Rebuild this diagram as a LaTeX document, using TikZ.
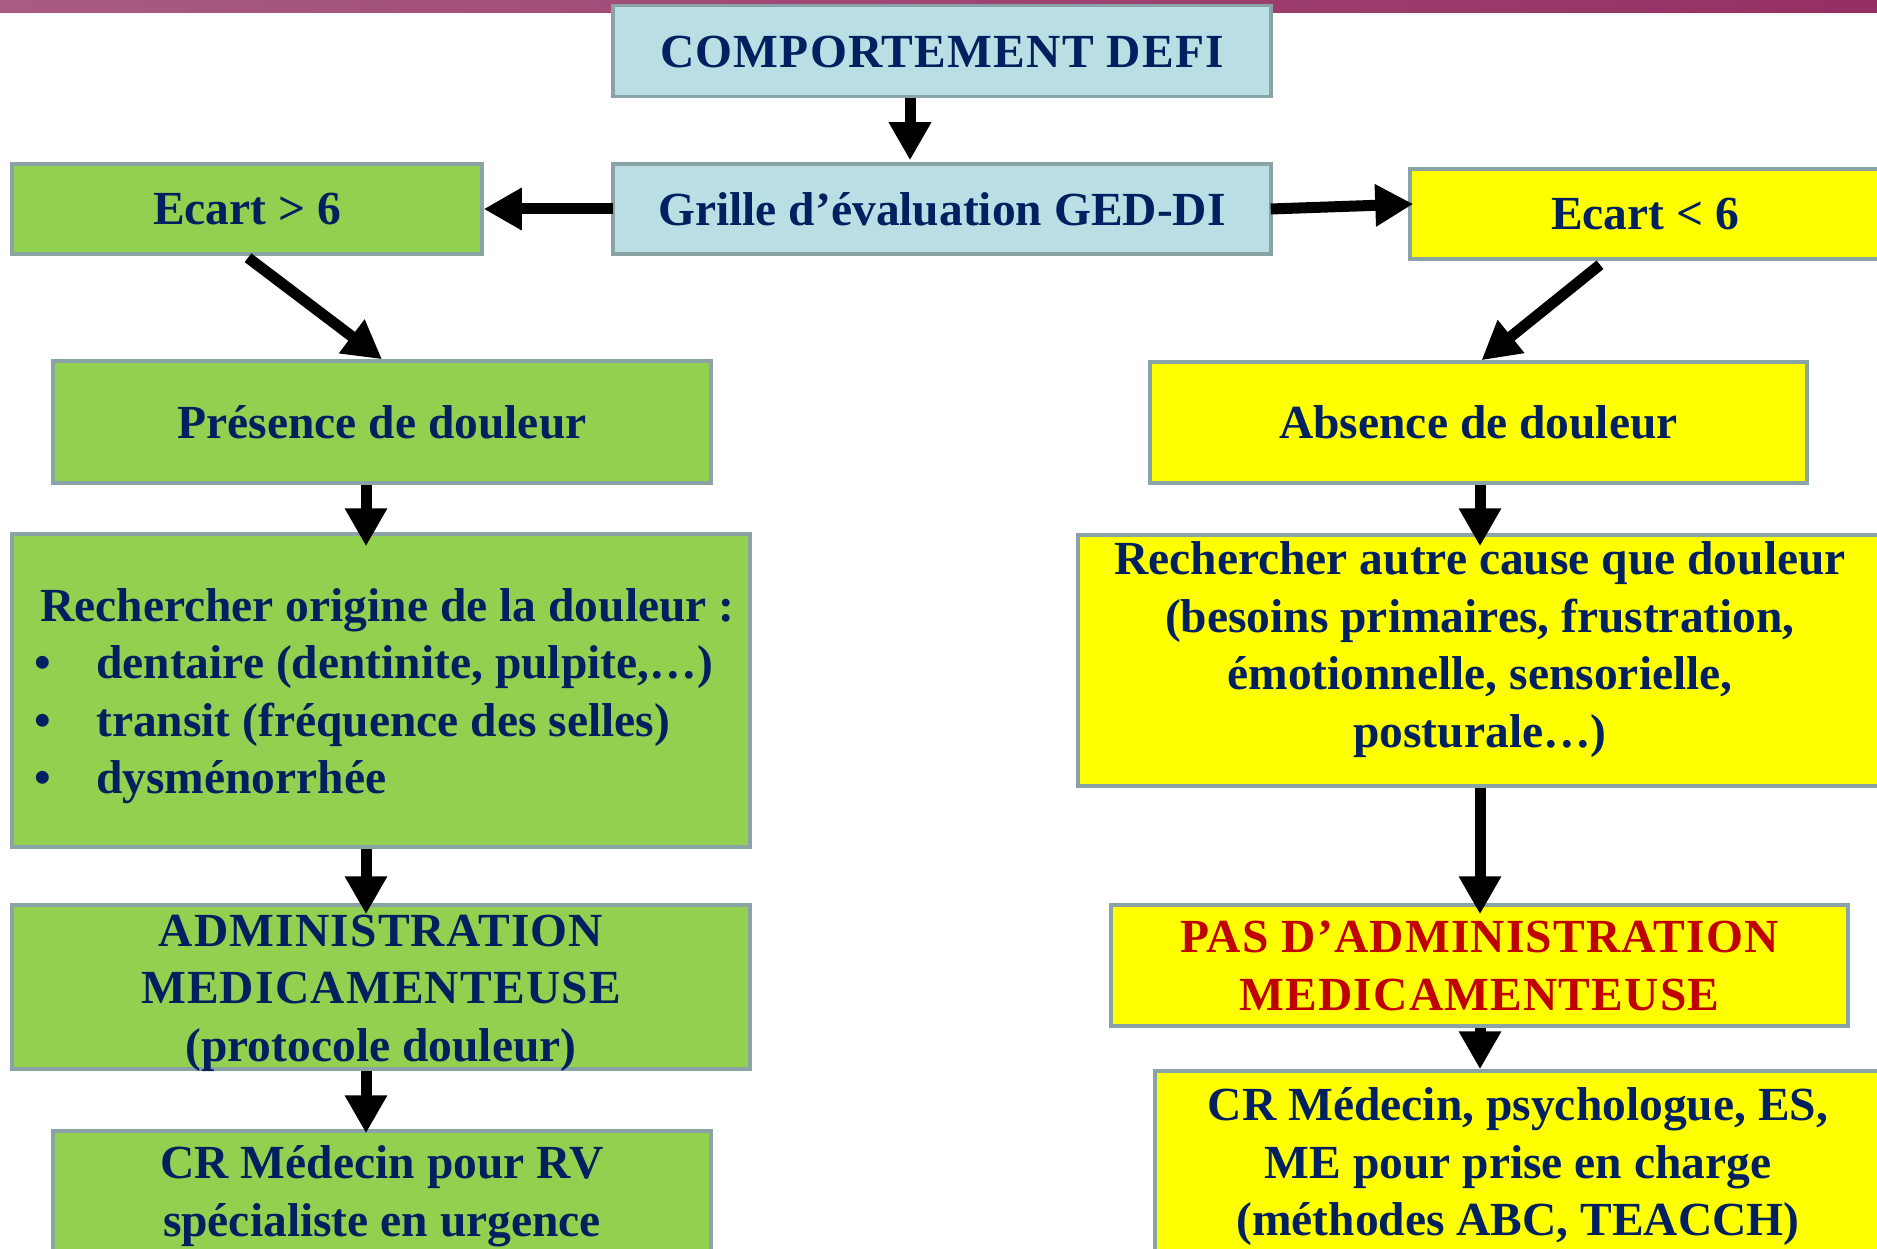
\documentclass[tikz,border=0pt]{standalone}
\usepackage{fontspec}
\setmainfont{Liberation Serif}
\newfontfamily\capsfont[LetterSpace=2.5]{Liberation Serif}
\usetikzlibrary{arrows.meta,calc}
\definecolor{navy}{HTML}{002060}
\definecolor{redtxt}{HTML}{C00000}
\definecolor{gfill}{HTML}{92D050}
\definecolor{yfill}{HTML}{FFFF00}
\definecolor{bfill}{HTML}{B9DFE4}
\definecolor{bord}{HTML}{8AA3A6}
\definecolor{barL}{HTML}{A85C83}
\definecolor{barR}{HTML}{962F63}
\tikzset{
  txt/.style={inner sep=0pt, align=center, text=navy,
    font=\bfseries\fontsize{47.5}{57.5}\selectfont},
  capstxt/.style={txt, font=\capsfont\bfseries\fontsize{47.5}{57.5}\selectfont},
  box/.style={txt, draw=bord, line width=3.5pt, rectangle},
  gbox/.style={box, fill=gfill},
  ybox/.style={box, fill=yfill},
  bbox/.style={box, fill=bfill},
  arr/.style={line width=11pt, -{Triangle[length=38pt,width=40pt]}, black}
}
\begin{document}
\begin{tikzpicture}[x=1pt,y=-1pt]
\useasboundingbox (0,0) rectangle (1877,1249);
\clip (0,0) rectangle (1877,1249);
\fill[fill=white] (0,0) rectangle (1877,1249);
\shade[left color=barL, right color=barR] (0,0) rectangle (1877,13);
\coordinate (lc) at (366,0);
\coordinate (rc) at (1480,0);
% boxes
\node[bbox, minimum width=658pt, minimum height=91pt] (top) at (942,51) {};
\node[capstxt] (topt) at (942,52) {COMPORTEMENT DEFI};
\node[bbox, minimum width=658pt, minimum height=90pt] (grille) at (942,209) {Grille d’évaluation GED-DI};
\node[gbox, minimum width=470pt, minimum height=90pt] (e6) at (247,209) {Ecart > 6};
\node[ybox, minimum width=470pt, minimum height=90pt] (el6) at (1645,214) {Ecart < 6};
\node[gbox, minimum width=658pt, minimum height=122pt] (pres) at (382,422) {Présence de douleur};
\node[ybox, minimum width=657pt, minimum height=121pt] (abs) at (1478.5,422.5) {Absence de douleur};
\node[gbox, minimum width=738pt, minimum height=313pt] (rech) at (381,690.5) {};
\node[txt, align=left, anchor=west] (recht) at (40,696)
  {Rechercher origine de la douleur~:\\
   \makebox[56pt][l]{\kern-6pt•}dentaire (dentinite, pulpite,…)\\
   \makebox[56pt][l]{\kern-6pt•}transit (fréquence des selles)\\
   \makebox[56pt][l]{\kern-6pt•}dysménorrhée};
\node[ybox, minimum width=804pt, minimum height=251pt] (rech2) at (1480,660.5) {};
\node[txt] (rech2t) at (1480,649.5)
  {Rechercher autre cause que douleur\\(besoins primaires, frustration,\\émotionnelle, sensorielle,\\posturale…)};
\node[gbox, minimum width=738pt, minimum height=164pt] (admin) at (381,987) {};
\node[capstxt] (admint) at (381,993)
  {ADMINISTRATION\\MEDICAMENTEUSE\\{\rmfamily(protocole douleur)}};
\node[ybox, minimum width=737pt, minimum height=121pt] (pas) at (1479.5,965.5) {};
\node[capstxt, text=redtxt] (past) at (1479.5,966)
  {PAS D’ADMINISTRATION\\MEDICAMENTEUSE};
\node[gbox, minimum width=658pt, minimum height=122pt] (cr1) at (382,1192) {};
\node[txt] (cr1t) at (382,1196)
  {CR Médecin pour RV\\spécialiste en urgence};
\node[ybox, minimum width=726pt, minimum height=186pt] (cr2) at (1518,1164) {};
\node[txt] (cr2t) at (1518,1167)
  {CR Médecin, psychologue, ES,\\ME pour prise en charge\\(méthodes ABC, TEACCH)};
% connectors
\draw[arr] ($(top.south -| 910,0)$) -- ($(grille.north -| 910,0)+(0,-2)$);
\draw[arr] ($(grille.west)+(2,0)$) -- (e6.east);
\draw[arr] ($(grille.east)+(-2,0)$) -- ($(el6.west)+(5,-10)$);
\draw[arr] ($(e6.south)+(1,2)$) -- (pres.north);
\draw[arr] ($(el6.south)+(-45,4)$) -- ($(abs.north)+(3,0)$);
\draw[arr] (pres.south -| lc) -- ($(rech.north -| lc)+(0,14)$);
\draw[arr] (abs.south -| rc) -- ($(rech2.north -| rc)+(0,13)$);
\draw[arr] (rech.south -| lc) -- ($(admin.north -| lc)+(0,11)$);
\draw[arr] (rech2.south -| rc) -- ($(pas.north -| rc)+(0,11)$);
\draw[arr] (admin.south -| lc) -- ($(cr1.north -| lc)+(0,4)$);
\draw[arr] (pas.south -| rc) -- (cr2.north -| rc);
\end{tikzpicture}
\end{document}
